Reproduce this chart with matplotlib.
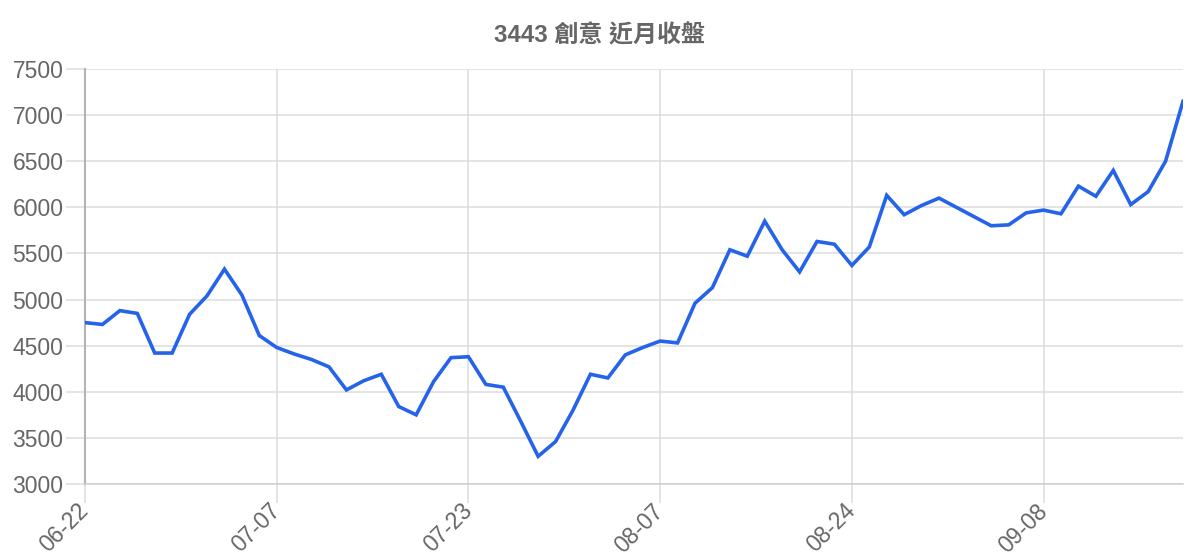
import matplotlib
matplotlib.use("Agg")
import matplotlib.pyplot as plt

plt.rcParams['font.family'] = ['Liberation Sans', 'Noto Sans CJK TC', 'DejaVu Sans']

# closing prices, one per trading day
close = [4750, 4730, 4880, 4850, 4420, 4420, 4840, 5040, 5330, 5050,
         4610, 4480, 4410, 4350, 4270, 4020, 4120, 4190, 3840, 3750,
         4110, 4370, 4380, 4080, 4050, 3680, 3300, 3460, 3800, 4190,
         4150, 4400, 4480, 4550, 4530, 4960, 5130, 5540, 5470, 5850,
         5540, 5300, 5630, 5600, 5370, 5570, 6130, 5920, 6020, 6100,
         6000, 5900, 5800, 5810, 5940, 5970, 5930, 6230, 6120, 6400,
         6030, 6170, 6500, 7150]
tick_labels = ["06-22", "07-07", "07-23", "08-07", "08-24", "09-08"]
tick_every = 11
y_ticks = [3000, 3500, 4000, 4500, 5000, 5500, 6000, 6500, 7000, 7500]

fig = plt.figure(figsize=(12, 5.6), dpi=100)
ax = fig.add_axes([85 / 1200, 1 - 484 / 560, (1183 - 85) / 1200, (484 - 69) / 560])

x = list(range(len(close)))
ax.plot(x, close, color="#2563EB", linewidth=2.6, solid_joinstyle="miter", zorder=3)

ax.set_xlim(0, len(close) - 1)
ax.set_ylim(y_ticks[0], y_ticks[-1])
ax.set_yticks(y_ticks)
ax.set_xticks([i * tick_every for i in range(len(tick_labels))])
ax.set_xticklabels(tick_labels, rotation=45, ha="right", va="center", rotation_mode="anchor")

grid_col = "#dcdcdc"
ax.grid(True, color=grid_col, linewidth=1.1)
ax.set_axisbelow(True)
for s in ["top", "right"]:
    ax.spines[s].set_visible(False)
ax.spines["left"].set_color("#b3b3b3")
ax.spines["left"].set_linewidth(1.5)
ax.spines["bottom"].set_color("#cfcfcf")
ax.spines["bottom"].set_linewidth(1.1)

ax.tick_params(axis="both", colors=grid_col, width=1.1, length=14,
               labelcolor="#666666", labelsize=16.5)
ax.tick_params(axis="y", pad=1.5)
ax.tick_params(axis="x", pad=3)

# title is centred on the whole figure, not on the plot area
fig.text(0.5, 1 - 36 / 560, "3443 創意 近月收盤", fontsize=17.3, fontweight="bold",
         color="#666666", ha="center", va="center")

fig.savefig("out.png", dpi=100)
